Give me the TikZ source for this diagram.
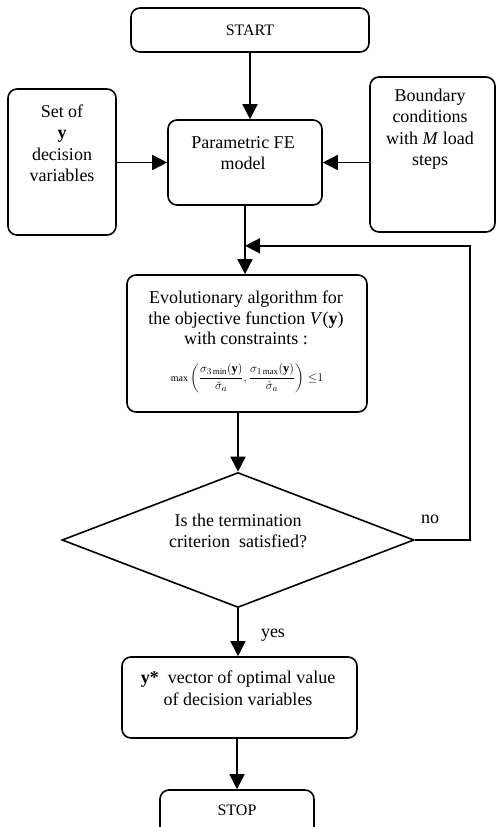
\documentclass[tikz,border=0pt]{standalone}
\usepackage{amsmath}
\usepackage{fontspec}
\setmainfont{Liberation Serif}
\usetikzlibrary{arrows.meta,shapes.geometric,positioning}

\begin{document}
\begin{tikzpicture}[x=1pt, y=-1pt, line width=1.6pt,
    box/.style={draw, rounded corners=9pt, inner sep=0pt},
    txt/.style={align=center, inner sep=0pt, font=\fontsize{18}{21.5}\selectfont},
    arr/.style={-{Triangle[width=15pt,length=15pt]}}]
  \clip (0,0) rectangle (497,827);

  % boxes of the flow
  \node[box, minimum width=238pt, minimum height=44pt] (start) at (250,30) {};
  \node[box, minimum width=154pt, minimum height=85pt] (param) at (245,162.5) {};
  \node[box, minimum width=108pt, minimum height=146pt] (setY) at (62,162) {};
  \node[box, minimum width=125pt, minimum height=155pt] (bound) at (432.5,154.5) {};
  \node[box, minimum width=240pt, minimum height=137pt] (evol) at (247,343.5) {};
  \node[draw, diamond, inner sep=0pt, minimum width=352pt, minimum height=135pt] (decide) at (238,540) {};
  \node[box, minimum width=235pt, minimum height=81pt] (optim) at (239.5,697.5) {};
  \node[box, minimum width=154pt, minimum height=60pt] (stop) at (237,820) {};

  % texts
  \node[txt, font=\fontsize{16}{18}\selectfont] (startT) at (250,30) {START};
  \node[txt] (paramT) at (243,153) {Parametric FE\\model};
  \node[txt] (setYT) at (62,143) {Set of\\\textbf{y}\\decision\\variables};
  \node[txt] (boundT) at (430,129) {Boundary\\conditions\\with \textit{M} load\\steps};
  \node[txt, font=\fontsize{18}{20.5}\selectfont] (evolT) at (246,318)
    {Evolutionary algorithm for\\the objective function \textit{V}(\textbf{y})\\with constraints :};
  \node[inner sep=0pt, font=\fontsize{12.5}{15}\selectfont] (constr) at (247,378)
    {$\mbox{\fontsize{10}{10}\selectfont max}\left(\dfrac{\sigma_{3\min}(\mathbf{y})}{\breve{\sigma}_a},
      \dfrac{\sigma_{1\max}(\mathbf{y})}{\hat{\sigma}_a}\right)\,{\le}1$};
  \node[txt] (decideT) at (238,531) {Is the termination\\criterion~~satisfied?};
  \node[txt] (optimT) at (238,688) {\textbf{y*}~~vector of optimal value\\of decision variables};
  \node[txt, font=\fontsize{16}{18}\selectfont] (stopT) at (237,810) {STOP};

  % connectors
  \draw[arr] (start.south) -- (start.south |- param.north);
  \draw[arr] (param.west -| setY.east) -- (param.west);
  \draw[arr] (param.east -| bound.west) -- (param.east);
  \path (param.south) ++(0,40) coordinate (merge);
  \draw[arr] (param.south) -- (param.south |- evol.north);
  \draw[arr] (decide.north |- evol.south) -- (decide.north);
  \draw[arr] (decide.east) -- ++(55,0) |- (merge);
  \draw[arr] (decide.south) -- (decide.south |- optim.north);
  \draw[arr] (stop.north |- optim.south) -- (stop.north);

  % branch labels
  \node[txt] (noL) at (430,519) {no};
  \node[txt] (yesL) at (273,635) {yes};
\end{tikzpicture}
\end{document}
